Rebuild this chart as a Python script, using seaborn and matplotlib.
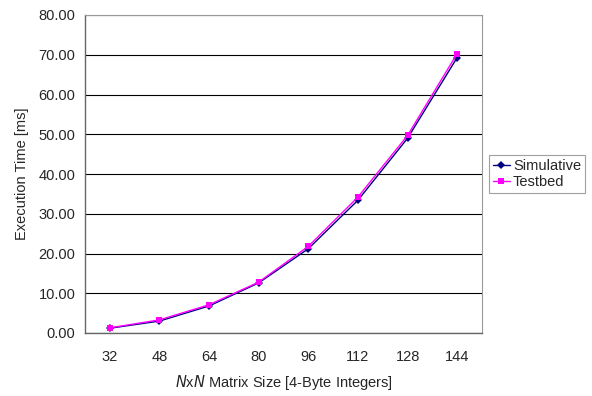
import matplotlib
matplotlib.use("Agg")
import matplotlib.pyplot as plt
import seaborn as sns
import pandas as pd
import numpy as np

sizes = ["32", "48", "64", "80", "96", "112", "128", "144"]
simulative = [1.2, 3.0, 6.8, 12.6, 21.2, 33.4, 49.0, 69.3]
testbed = [1.3, 3.3, 7.1, 12.8, 21.8, 34.2, 49.7, 70.3]
y_ticks = [0, 10, 20, 30, 40, 50, 60, 70, 80]

sns.set_style("white")
plt.rcParams['font.family'] = ['Liberation Sans', 'DejaVu Sans']
FS = 10.5

pos = np.arange(len(sizes))
df = pd.DataFrame({
    "pos": np.concatenate([pos, pos]),
    "value": simulative + testbed,
    "series": ["Simulative"] * len(sizes) + ["Testbed"] * len(sizes),
})

fig = plt.figure(figsize=(5.92, 3.96), dpi=100)
ax = fig.add_axes([85/592, 1 - 333/396, (482-85)/592, (333-15)/396])

sns.lineplot(data=df, x="pos", y="value", hue="series", style="series",
             palette={"Simulative": "#000080", "Testbed": "#FF00FF"},
             markers={"Simulative": "D", "Testbed": "s"}, dashes=False,
             markersize=4, linewidth=1.0, markeredgewidth=0, ax=ax, legend=False)

ax.set_xlim(-0.5, len(sizes) - 0.5)
ax.set_ylim(0, 80)
ax.set_yticks(y_ticks)
ax.set_yticklabels([f"{v:.2f}" for v in y_ticks], fontsize=FS)
ax.yaxis.grid(True, color="black", linewidth=0.8)
ax.set_axisbelow(True)

ax.set_xticks(np.arange(len(sizes) + 1) - 0.5)
ax.set_xticklabels([])
ax.set_xticks(pos, minor=True)
ax.set_xticklabels(sizes, minor=True, fontsize=FS)
ax.tick_params(axis="x", which="major", direction="out", length=4, color="#555555", width=0.8)
ax.tick_params(axis="x", which="minor", length=0, pad=12)
ax.tick_params(axis="y", direction="out", length=4, color="#555555", width=0.8, pad=3)

for side in ["top", "right"]:
    ax.spines[side].set_color("#999999")
    ax.spines[side].set_linewidth(0.8)
ax.spines["left"].set_color("#666666")
ax.spines["bottom"].set_color("#666666")
ax.spines["left"].set_linewidth(1.0)
ax.spines["bottom"].set_linewidth(1.0)

ax.set_ylabel("Execution Time [ms]", fontsize=FS, labelpad=7)
ax.set_xlabel(r"$\it{N}$x$\it{N}$ Matrix Size [4-Byte Integers]", fontsize=FS, labelpad=7)

from matplotlib.lines import Line2D
handles = [
    Line2D([], [], color="#000080", marker="D", markersize=4, markeredgewidth=0, linewidth=1.0),
    Line2D([], [], color="#FF00FF", marker="s", markersize=4, markeredgewidth=0, linewidth=1.0),
]
leg = fig.legend(handles, ["Simulative", "Testbed"], loc="center left",
                 bbox_to_anchor=(489/592, 1 - 174/396), fontsize=FS,
                 frameon=True, fancybox=False, handlelength=1.2, handletextpad=0.2,
                 borderpad=0.25, labelspacing=0.15, borderaxespad=0)
leg.get_frame().set_edgecolor("#888888")
leg.get_frame().set_linewidth(0.8)

fig.savefig("out.png", dpi=100)
